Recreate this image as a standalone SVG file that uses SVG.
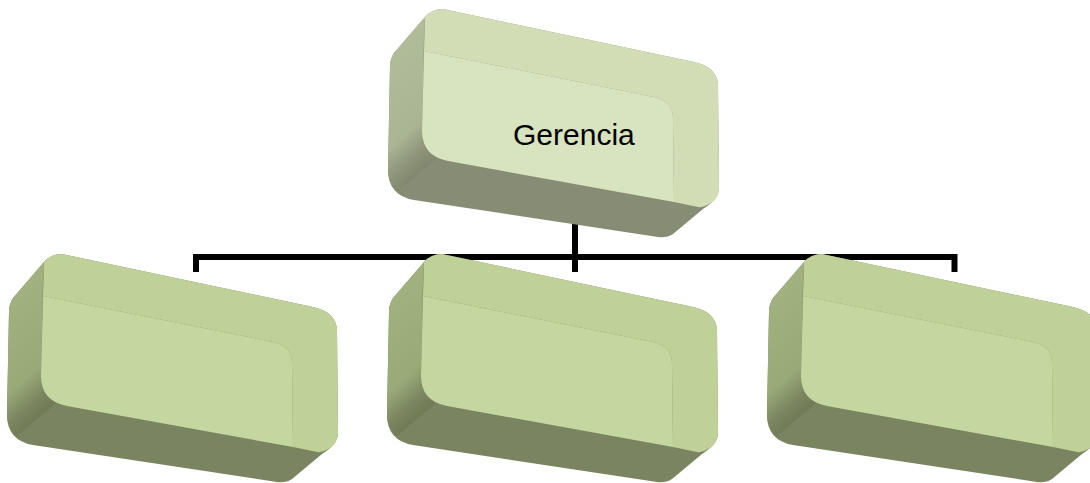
<svg xmlns="http://www.w3.org/2000/svg" xmlns:xlink="http://www.w3.org/1999/xlink" width="1090" height="483" viewBox="0 0 1090 483">
  <style>
    .conn { fill: none; stroke: #000; stroke-width: 6; stroke-linejoin: miter; stroke-linecap: butt; }
    .g-sil { fill: #878d74; }
    .g-left { fill: url(#gLeftTop); }
    .g-top { fill: #d2ddb6; }
    .g-front { fill: #d8e3bf; }
    .s-sil { fill: #7a8460; }
    .s-left { fill: url(#gLeftSub); }
    .s-top { fill: #bfd198; }
    .s-front { fill: #c5d7a0; }
    .label { font-family: "Liberation Sans", Arial, sans-serif; font-size: 30px; fill: #000; }
  </style>
  <defs>
    <linearGradient id="gLeftTop" x1="0" y1="0" x2="0.25" y2="1">
      <stop offset="0" stop-color="#b3be9b"/>
      <stop offset="0.72" stop-color="#aab594"/>
      <stop offset="0.88" stop-color="#8e957a"/>
      <stop offset="1" stop-color="#80866c"/>
    </linearGradient>
    <linearGradient id="gLeftSub" x1="0" y1="0" x2="0.25" y2="1">
      <stop offset="0" stop-color="#a4b582"/>
      <stop offset="0.72" stop-color="#99aa78"/>
      <stop offset="0.88" stop-color="#7c8761"/>
      <stop offset="1" stop-color="#6f7955"/>
    </linearGradient>
    <path id="sil" d="M62,6 L313,59 Q336,64 337,82 L338,185 Q338,196 322,206 L292,231 Q286,235 277,234 L33,197 Q6,192 7,165 L9,64 Q9,56 13,50 L44,14 Q51,6 62,6 Z"/>
    <path id="leftface" d="M44,14 L13,50 Q9,56 9,64 L7,165 Q7,180 17,188 L56,155 Q41,149 41,130 L43,30 Z"/>
    <path id="topface" d="M44,14 Q51,6 62,6 L313,59 Q336,64 337,82 L338,185 Q338,196 328,201 Q322,205 317,204 L293,199 L292,116 Q292,98 273,94 L43,48 Z"/>
    <path id="front" d="M43,48 L273,94 Q292,98 292,116 L293,199 L67,158 Q41,153 41,128 Z"/>
  </defs>

  <g id="connectors">
    <path class="conn" d="M575,222 V272"/>
    <path class="conn" d="M196,272 V257 H954.5 V272"/>
  </g>

  <g id="node-gerencia" transform="translate(381,3)">
    <use xlink:href="#sil" class="g-sil"/>
    <use xlink:href="#leftface" class="g-left"/>
    <use xlink:href="#topface" class="g-top"/>
    <use xlink:href="#front" class="g-front"/>
    <text class="label" x="132" y="142">Gerencia</text>
  </g>

  <g id="node-left" transform="translate(0,248)">
    <use xlink:href="#sil" class="s-sil"/>
    <use xlink:href="#leftface" class="s-left"/>
    <use xlink:href="#topface" class="s-top"/>
    <use xlink:href="#front" class="s-front"/>
  </g>

  <g id="node-middle" transform="translate(380,248)">
    <use xlink:href="#sil" class="s-sil"/>
    <use xlink:href="#leftface" class="s-left"/>
    <use xlink:href="#topface" class="s-top"/>
    <use xlink:href="#front" class="s-front"/>
  </g>

  <g id="node-right" transform="translate(760,248)">
    <use xlink:href="#sil" class="s-sil"/>
    <use xlink:href="#leftface" class="s-left"/>
    <use xlink:href="#topface" class="s-top"/>
    <use xlink:href="#front" class="s-front"/>
  </g>
</svg>
